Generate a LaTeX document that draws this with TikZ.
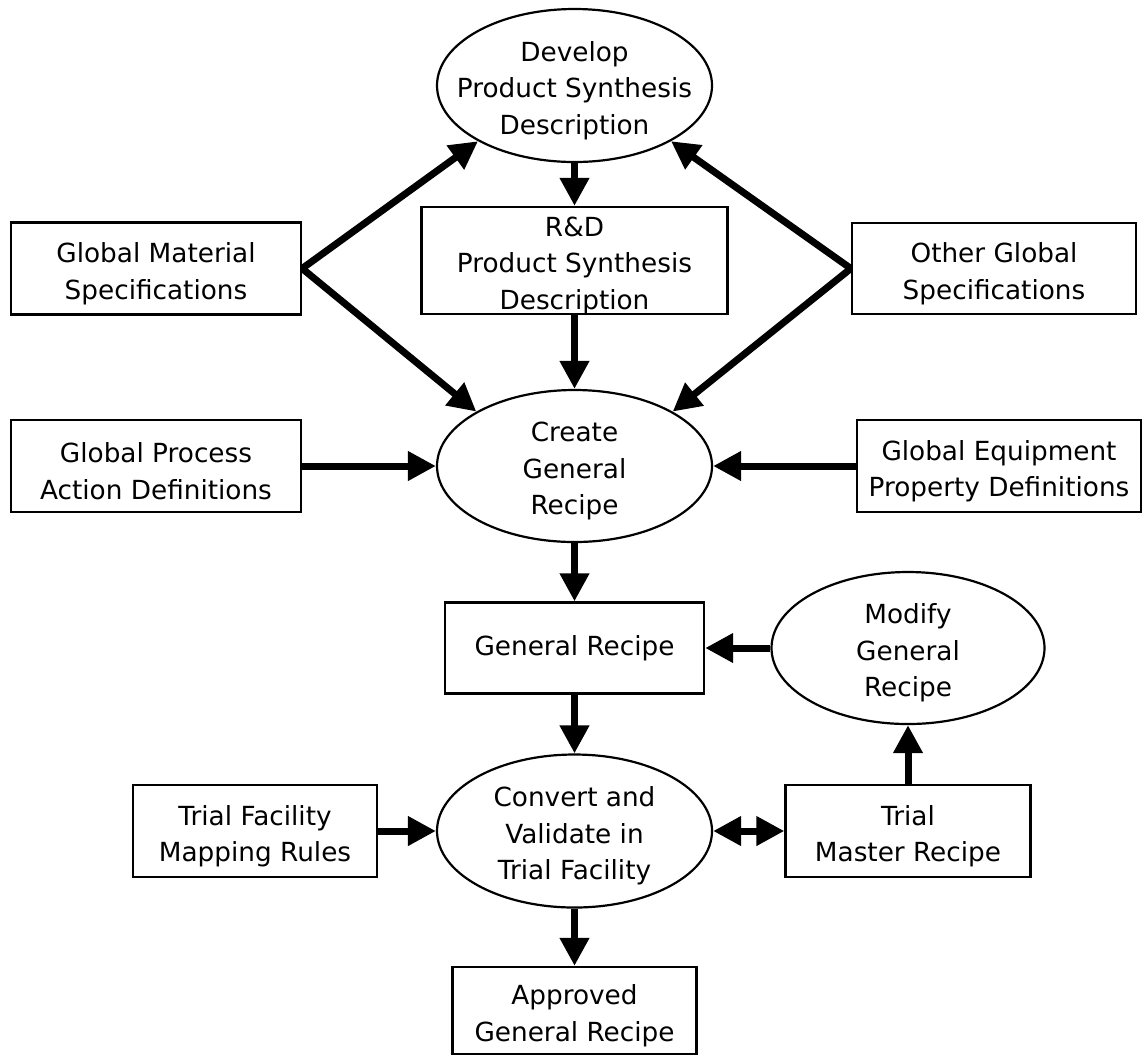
\documentclass[tikz,border=0pt]{standalone}
\usepackage{fontspec}
\setmainfont{DejaVu Sans}
\usetikzlibrary{shapes.geometric,arrows.meta}
\begin{document}
\begin{tikzpicture}[x=0.5pt,y=-0.5pt,
  txt/.style={font=\fontsize{13.15pt}{18.25pt}\selectfont, align=center, inner sep=0pt, yshift=-2.5pt},
  txtone/.style={font=\fontsize{13.15pt}{18.25pt}\selectfont, align=center, inner sep=0pt},
  box/.style={draw, line width=1.15pt, rectangle, inner sep=0pt},
  ell/.style={draw, line width=1.1pt, ellipse, inner sep=0pt},
  arr/.style={line width=3.5pt, -{Triangle[length=14pt,width=14pt]}},
  darr/.style={line width=3.5pt, {Triangle[length=14pt,width=14pt]}-{Triangle[length=14pt,width=14pt]}}]
\fill[white] (0,0) rectangle (1144,1057);
\useasboundingbox (0,0) rectangle (1144,1057);

% ellipses
\node[ell, minimum width=137.5pt, minimum height=76.5pt,
  label={[txt]center:Develop\\Product Synthesis\\Description}] (dev) at (574.5,85.5) {};
\node[ell, minimum width=137.5pt, minimum height=76pt,
  label={[txt]center:Create\\General\\Recipe}] (create) at (574.5,466) {};
\node[ell, minimum width=136.5pt, minimum height=76pt,
  label={[txt]center:Modify\\General\\Recipe}] (mod) at (908,648) {};
\node[ell, minimum width=137.5pt, minimum height=76.5pt,
  label={[txt]center:Convert and\\Validate in\\Trial Facility}] (conv) at (574.5,831) {};

% boxes
\node[box, minimum width=153pt, minimum height=53.5pt,
  label={[txt]center:R\&D\\Product Synthesis\\Description}] (rd) at (574.5,260.5) {};
\node[box, minimum width=145pt, minimum height=46pt,
  label={[txt]center:Global Material\\Specifications}] (gm) at (156,268.5) {};
\node[box, minimum width=142pt, minimum height=45.5pt,
  label={[txt]center:Other Global\\Specifications}] (og) at (994,268.5) {};
\node[box, minimum width=145pt, minimum height=46pt,
  label={[txt]center:Global Process\\Action Definitions}] (gp) at (156,466) {};
\node[box, minimum width=142pt, minimum height=46pt,
  label={[txt]center:Global Equipment\\Property Definitions}] (ge) at (999,466) {};
\node[box, minimum width=129.5pt, minimum height=45.5pt,
  label={[txtone]center:General Recipe}] (gr) at (574.5,648) {};
\node[box, minimum width=122pt, minimum height=46pt,
  label={[txt]center:Trial Facility\\Mapping Rules}] (tf) at (255,831) {};
\node[box, minimum width=122.5pt, minimum height=46pt,
  label={[txt]center:Trial\\Master Recipe}] (tm) at (908,831) {};
\node[box, minimum width=122pt, minimum height=43.5pt,
  label={[txt]center:Approved\\General Recipe}] (appr) at (574.5,1010.5) {};

% connectors
\draw[arr] (dev.south) -- (rd.north);
\draw[arr] (rd.south) -- (create.north);
\draw[arr] (gm.east) -- (dev.210);
\draw[arr] (gm.east) -- (create.151);
\draw[arr] (og.west) -- (dev.330);
\draw[arr] (og.west) -- (create.29);
\draw[arr] (gp.east) -- (create.west);
\draw[arr] (ge.west) -- (create.east);
\draw[arr] (create.south) -- (gr.north);
\draw[arr] (mod.west) -- (gr.east);
\draw[arr] (gr.south) -- (conv.north);
\draw[arr] (tf.east) -- (conv.west);
\draw[darr] (conv.east) -- (tm.west);
\draw[arr] (tm.north) -- (mod.south);
\draw[arr] (conv.south) -- (appr.north);
\end{tikzpicture}
\end{document}
